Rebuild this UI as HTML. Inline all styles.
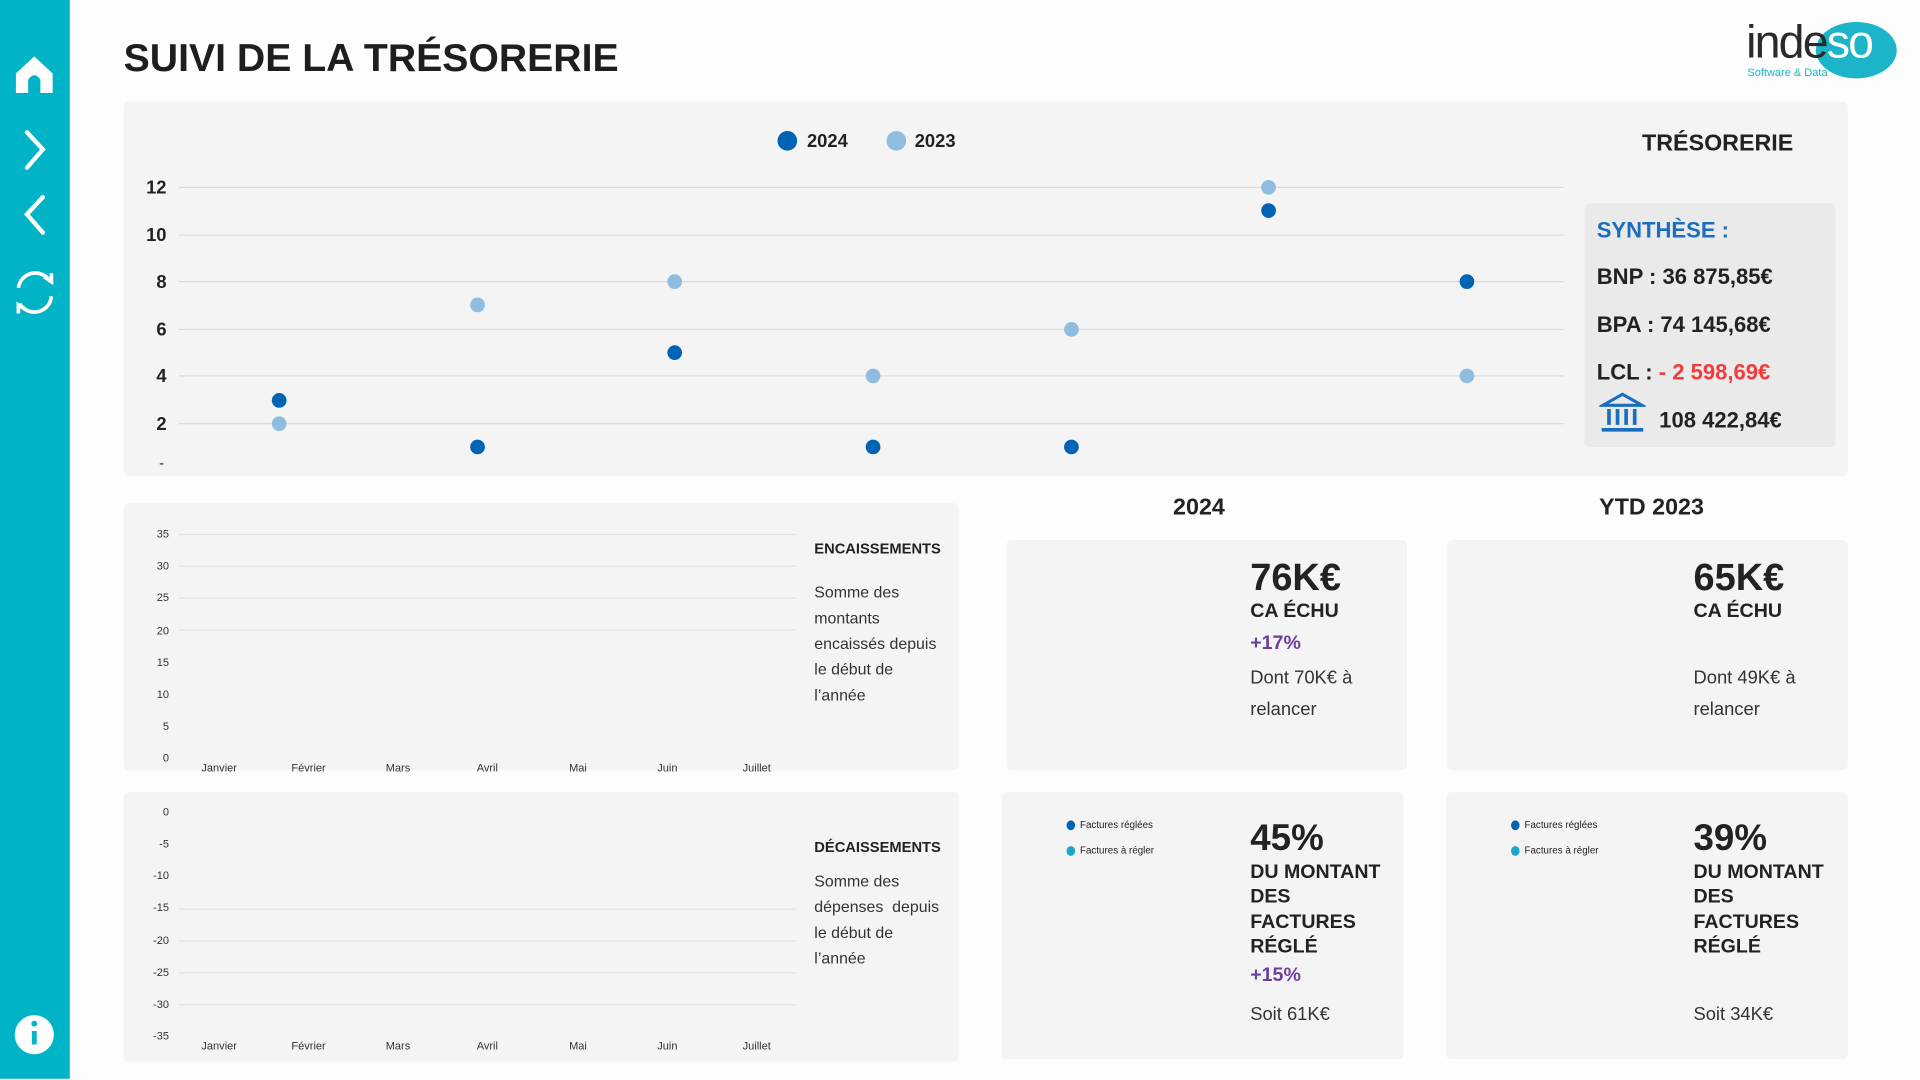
<!DOCTYPE html>
<html><head><meta charset="utf-8"><style>
html,body{margin:0;padding:0;width:1920px;height:1080px;overflow:hidden;background:#fdfdfd}
#w{position:absolute;left:0;top:0;width:1568px;height:881px;transform:scale(1.22449);transform-origin:0 0;font-family:"Liberation Sans","DejaVu Sans",sans-serif;color:#222}
.a{position:absolute;white-space:nowrap}
.p{position:absolute;background:#f4f4f4;border-radius:4px}
.b{font-weight:bold}
.yl{position:absolute;font-size:9px;color:#333;text-align:right;width:20px}
.ml{position:absolute;font-size:9px;color:#333;transform:translateX(-50%)}
.g{position:absolute;height:1px;background:#e2e2e2}
</style></head><body><div id="w">
<div style="position:absolute;left:0;top:0;width:57px;height:881px;background:#00b3c7"></div>
<svg class="a" style="left:0;top:0" width="57" height="881">
<path d="M13 76 V60 L28 46 L43 60 V76 H33 V65 Q28 58 23 65 V76 Z" fill="#fff"/>
<path d="M22 108 L35 122 L22 137" stroke="#fff" stroke-width="3.5" fill="none" stroke-linecap="round"/>
<path d="M35 161 L22 175 L35 190" stroke="#fff" stroke-width="3.5" fill="none" stroke-linecap="round"/>
<path d="M15 235 A14 14 0 0 1 41 230 M42 242 A14 14 0 0 1 16 248" stroke="#fff" stroke-width="3" fill="none"/>
<path d="M36 226 L42 230 L42 223 M20 252 L15 249 L15 256" stroke="#fff" stroke-width="3" fill="none"/>
<circle cx="28" cy="845" r="16" fill="#fff"/><rect x="26" y="842" width="4" height="11" fill="#00b3c7"/><circle cx="28" cy="836" r="2.4" fill="#00b3c7"/>
</svg>
<div class="a b" style="left:101px;top:29px;font-size:32px;color:#1e1e1e">SUIVI DE LA TRÉSORERIE</div>
<div class="a" style="left:1483px;top:18px;width:66px;height:46px;border-radius:50%;background:#1bb4c8"></div>
<div class="a" style="left:1426px;top:14px;font-size:38px;color:#2a2a2a;letter-spacing:-1.5px">inde<span style="color:#fff">so</span></div>
<div class="a" style="left:1427px;top:54px;font-size:9px;color:#1bb4c8">Software &amp; Data</div>

<div class="p" style="left:101px;top:83px;width:1408px;height:306px"></div>
<svg class="a" style="left:101px;top:83px" width="1200" height="306">
<circle cx="542" cy="32" r="8" fill="#0063b3"/><circle cx="631" cy="32" r="8" fill="#8fbde0"/>
<g stroke="#dcdcdc" stroke-width="1"><line x1="45" x2="1176" y1="70" y2="70"/><line x1="45" x2="1176" y1="109" y2="109"/><line x1="45" x2="1176" y1="147" y2="147"/><line x1="45" x2="1176" y1="186" y2="186"/><line x1="45" x2="1176" y1="224" y2="224"/><line x1="45" x2="1176" y1="263" y2="263"/></g>
<g fill="#8fbde0"><circle cx="127" cy="263" r="6"/><circle cx="289" cy="166" r="6"/><circle cx="450" cy="147" r="6"/><circle cx="612" cy="224" r="6"/><circle cx="774" cy="186" r="6"/><circle cx="935" cy="70" r="6"/><circle cx="1097" cy="224" r="6"/></g>
<g fill="#0063b3"><circle cx="127" cy="244" r="6"/><circle cx="289" cy="282" r="6"/><circle cx="450" cy="205" r="6"/><circle cx="612" cy="282" r="6"/><circle cx="774" cy="282" r="6"/><circle cx="935" cy="89" r="6"/><circle cx="1097" cy="147" r="6"/></g>
</svg>
<div class="a b" style="left:659px;top:107px;font-size:15px">2024</div>
<div class="a b" style="left:747px;top:107px;font-size:15px">2023</div>
<div class="a b" style="left:106px;top:144px;width:30px;text-align:right;font-size:15px;line-height:20px">12</div>
<div class="a b" style="left:106px;top:183px;width:30px;text-align:right;font-size:15px;line-height:20px">10</div>
<div class="a b" style="left:106px;top:221px;width:30px;text-align:right;font-size:15px;line-height:20px">8</div>
<div class="a b" style="left:106px;top:260px;width:30px;text-align:right;font-size:15px;line-height:20px">6</div>
<div class="a b" style="left:106px;top:298px;width:30px;text-align:right;font-size:15px;line-height:20px">4</div>
<div class="a b" style="left:106px;top:337px;width:30px;text-align:right;font-size:15px;line-height:20px">2</div>
<div class="a" style="left:106px;top:371px;width:28px;text-align:right;font-size:12px">-</div>
<div class="a b" style="left:1341px;top:107px;font-size:19px">TRÉSORERIE</div>
<div class="a" style="left:1294px;top:166px;width:205px;height:199px;background:#eaeaea;border-radius:4px"></div>
<div class="a b" style="left:1304px;top:177px;font-size:18px;color:#1a6ec0;line-height:22px">SYNTHÈSE :</div>
<div class="a b" style="left:1304px;top:215px;font-size:18px;line-height:22px">BNP : 36 875,85€</div>
<div class="a b" style="left:1304px;top:254px;font-size:18px;line-height:22px">BPA : 74 145,68€</div>
<div class="a b" style="left:1304px;top:293px;font-size:18px;line-height:22px">LCL : <span style="color:#f23c3c">- 2 598,69€</span></div>
<svg class="a" style="left:1306px;top:320px" width="38" height="34"><path d="M3 11 L19 2 L35 11 Z" fill="none" stroke="#1a6ec0" stroke-width="2.5"/><g stroke="#1a6ec0" stroke-width="3"><line x1="8" y1="14" x2="8" y2="27"/><line x1="15" y1="14" x2="15" y2="27"/><line x1="22" y1="14" x2="22" y2="27"/><line x1="29" y1="14" x2="29" y2="27"/><line x1="2" y1="31" x2="36" y2="31"/></g></svg>
<div class="a b" style="left:1355px;top:332px;font-size:18px;line-height:22px">108 422,84€</div>

<div class="p" style="left:101px;top:411px;width:682px;height:218px"></div>
<div class="g" style="left:146px;width:504px;top:436px"></div><div class="g" style="left:146px;width:504px;top:462px"></div><div class="g" style="left:146px;width:504px;top:488px"></div><div class="g" style="left:146px;width:504px;top:514px"></div>
<div class="yl" style="left:118px;top:431px">35</div><div class="yl" style="left:118px;top:457px">30</div><div class="yl" style="left:118px;top:483px">25</div><div class="yl" style="left:118px;top:510px">20</div><div class="yl" style="left:118px;top:536px">15</div><div class="yl" style="left:118px;top:562px">10</div><div class="yl" style="left:118px;top:588px">5</div><div class="yl" style="left:118px;top:614px">0</div>
<div class="ml" style="left:179px;top:622px">Janvier</div><div class="ml" style="left:252px;top:622px">Février</div><div class="ml" style="left:325px;top:622px">Mars</div><div class="ml" style="left:398px;top:622px">Avril</div><div class="ml" style="left:472px;top:622px">Mai</div><div class="ml" style="left:545px;top:622px">Juin</div><div class="ml" style="left:618px;top:622px">Juillet</div>
<div class="a b" style="left:665px;top:441px;font-size:12px">ENCAISSEMENTS</div>
<div class="a" style="left:665px;top:473px;font-size:13px;line-height:21px;color:#333">Somme des<br>montants<br>encaissés depuis<br>le début de<br>l’année</div>

<div class="p" style="left:101px;top:647px;width:682px;height:220px"></div>
<div class="g" style="left:146px;width:504px;top:742px"></div><div class="g" style="left:146px;width:504px;top:768px"></div><div class="g" style="left:146px;width:504px;top:794px"></div><div class="g" style="left:146px;width:504px;top:820px"></div>
<div class="yl" style="left:118px;top:658px">0</div><div class="yl" style="left:118px;top:684px">-5</div><div class="yl" style="left:118px;top:710px">-10</div><div class="yl" style="left:118px;top:736px">-15</div><div class="yl" style="left:118px;top:763px">-20</div><div class="yl" style="left:118px;top:789px">-25</div><div class="yl" style="left:118px;top:815px">-30</div><div class="yl" style="left:118px;top:841px">-35</div>
<div class="ml" style="left:179px;top:849px">Janvier</div><div class="ml" style="left:252px;top:849px">Février</div><div class="ml" style="left:325px;top:849px">Mars</div><div class="ml" style="left:398px;top:849px">Avril</div><div class="ml" style="left:472px;top:849px">Mai</div><div class="ml" style="left:545px;top:849px">Juin</div><div class="ml" style="left:618px;top:849px">Juillet</div>
<div class="a b" style="left:665px;top:685px;font-size:12px">DÉCAISSEMENTS</div>
<div class="a" style="left:665px;top:709px;font-size:13px;line-height:21px;color:#333">Somme des<br>dépenses&nbsp; depuis<br>le début de<br>l’année</div>

<div class="a b" style="left:958px;top:404px;font-size:19px">2024</div>
<div class="a b" style="left:1306px;top:404px;font-size:19px">YTD 2023</div>

<div class="p" style="left:822px;top:441px;width:327px;height:188px"></div>
<div class="a b" style="left:1021px;top:454px;font-size:31px">76K€</div>
<div class="a b" style="left:1021px;top:491px;font-size:16px">CA ÉCHU</div>
<div class="a b" style="left:1021px;top:517px;font-size:16px;color:#6b3fa0">+17%</div>
<div class="a" style="left:1021px;top:541px;font-size:15px;line-height:26px;color:#333">Dont 70K€ à<br>relancer</div>

<div class="p" style="left:1182px;top:441px;width:327px;height:188px"></div>
<div class="a b" style="left:1383px;top:454px;font-size:31px">65K€</div>
<div class="a b" style="left:1383px;top:491px;font-size:16px">CA ÉCHU</div>
<div class="a" style="left:1383px;top:541px;font-size:15px;line-height:26px;color:#333">Dont 49K€ à<br>relancer</div>

<div class="p" style="left:818px;top:647px;width:328px;height:218px"></div>
<div class="a" style="left:871px;top:670px;width:7px;height:8px;border-radius:50%;background:#0063b3"></div>
<div class="a" style="left:871px;top:691px;width:7px;height:8px;border-radius:50%;background:#1aa6cf"></div>
<div class="a" style="left:882px;top:669px;font-size:8px">Factures réglées</div>
<div class="a" style="left:882px;top:690px;font-size:8px">Factures à régler</div>
<div class="a b" style="left:1021px;top:668px;font-size:30px">45%</div>
<div class="a b" style="left:1021px;top:703px;font-size:16px;line-height:20.3px">DU MONTANT<br>DES<br>FACTURES<br>RÉGLÉ</div>
<div class="a b" style="left:1021px;top:788px;font-size:16px;color:#6b3fa0">+15%</div>
<div class="a" style="left:1021px;top:820px;font-size:15px;color:#333">Soit 61K€</div>

<div class="p" style="left:1181px;top:647px;width:328px;height:218px"></div>
<div class="a" style="left:1234px;top:670px;width:7px;height:8px;border-radius:50%;background:#0063b3"></div>
<div class="a" style="left:1234px;top:691px;width:7px;height:8px;border-radius:50%;background:#1aa6cf"></div>
<div class="a" style="left:1245px;top:669px;font-size:8px">Factures réglées</div>
<div class="a" style="left:1245px;top:690px;font-size:8px">Factures à régler</div>
<div class="a b" style="left:1383px;top:668px;font-size:30px">39%</div>
<div class="a b" style="left:1383px;top:703px;font-size:16px;line-height:20.3px">DU MONTANT<br>DES<br>FACTURES<br>RÉGLÉ</div>
<div class="a" style="left:1383px;top:820px;font-size:15px;color:#333">Soit 34K€</div>
</div></body></html>
